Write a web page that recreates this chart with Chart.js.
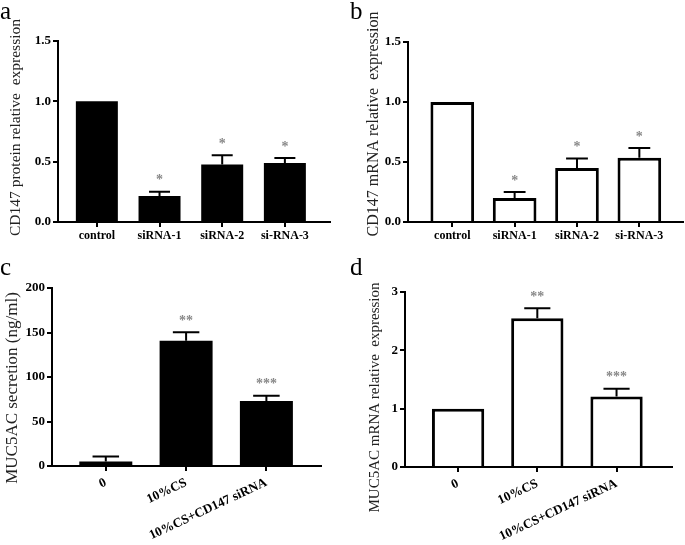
<!DOCTYPE html>
<html>
<head>
<meta charset="utf-8">
<script src="https://cdn.jsdelivr.net/npm/chart.js@4.4.0/dist/chart.umd.min.js"></script>
<style>
  body { margin: 0; background: #fff; width: 685px; height: 545px; position: relative; overflow: hidden; }
  canvas { position: absolute; }
</style>
</head>
<body>
<canvas id="chartA" width="340" height="256" style="left:0;top:0"></canvas>
<canvas id="chartB" width="335" height="256" style="left:350px;top:0"></canvas>
<canvas id="chartC" width="340" height="289" style="left:0;top:256px"></canvas>
<canvas id="chartD" width="335" height="289" style="left:350px;top:256px"></canvas>
<script>
// knockdown panels (a, b)
const knockdownLabels = ["control", "siRNA-1", "siRNA-2", "si-RNA-3"];
const proteinMeans = [1.0, 0.215, 0.477, 0.488];
const proteinErrors = [0, 0.035, 0.077, 0.042];
const mrnaMeans = [1.0, 0.20, 0.45, 0.535];
const mrnaErrors = [0, 0.05, 0.08, 0.082];
const knockdownStars = ["", "*", "*", "*"];
const knockdownTicks = [0, 0.5, 1.0, 1.5];

// treatment panels (c, d)
const treatmentLabels = ["0", "10%CS", "10%CS+CD147 siRNA"];
const secretionMeans = [5, 140.6, 73];
const secretionErrors = [5.6, 9.8, 6];
const muc5acMeans = [1.0, 2.55, 1.21];
const muc5acErrors = [0, 0.17, 0.13];
const treatmentStars = ["", "**", "***"];
const secretionTicks = [0, 50, 100, 150, 200];
const muc5acTicks = [0, 1, 2, 3];

const SERIF = "'Liberation Serif', 'Times New Roman', serif";

// upper-only error bars + significance stars, GraphPad style
const errorBarPlugin = {
  id: "errorBars",
  afterDatasetsDraw(chart) {
    const ds = chart.data.datasets[0];
    const meta = chart.getDatasetMeta(0);
    const y = chart.scales.y;
    const ctx = chart.ctx;
    ctx.save();
    meta.data.forEach((bar, i) => {
      const yBar = y.getPixelForValue(ds.means[i]);
      const yTop = y.getPixelForValue(ds.means[i] + ds.errors[i]);
      if (ds.errors[i] > 0) {
        const half = bar.width / 4;
        ctx.strokeStyle = "#000";
        ctx.lineWidth = 2;
        ctx.beginPath();
        ctx.moveTo(bar.x, yBar);
        ctx.lineTo(bar.x, yTop);
        ctx.moveTo(bar.x - half, yTop);
        ctx.lineTo(bar.x + half, yTop);
        ctx.stroke();
      }
      if (ds.stars[i]) {
        ctx.fillStyle = "#888";
        ctx.font = "bold 14px " + SERIF;
        ctx.textAlign = "center";
        ctx.textBaseline = "middle";
        ctx.fillText(ds.stars[i], bar.x, yTop - 11);
      }
    });
    ctx.restore();
  }
};

// y title drawn by hand: the original figure does not centre it on the axis
const yTitlePlugin = {
  id: "yTitle",
  afterDraw(chart, args, opts) {
    const { top, bottom } = chart.chartArea;
    const ctx = chart.ctx;
    ctx.save();
    ctx.translate(opts.x, (top + bottom) / 2 + opts.shift);
    ctx.rotate(-Math.PI / 2);
    ctx.fillStyle = "#222";
    ctx.font = opts.size + "px " + SERIF;
    ctx.textAlign = "center";
    ctx.textBaseline = "middle";
    ctx.fillText(opts.text, 0, 0);
    ctx.restore();
  }
};

function makePanel(id, p) {
  const ctx = document.getElementById(id).getContext("2d");
  return new Chart(ctx, {
    type: "bar",
    data: {
      datasets: [{
        data: p.means.map((v, i) => ({ x: i, y: v })),
        means: p.means,
        errors: p.errors,
        stars: p.stars,
        backgroundColor: p.hollow ? "#fff" : "#000",
        borderColor: "#000",
        borderWidth: p.hollow ? 3 : 0,
        categoryPercentage: 1,
        barPercentage: p.barPct,
      }],
    },
    options: {
      responsive: false,
      animation: false,
      layout: { padding: { left: 0, right: p.padRight, top: 0, bottom: 0 } },
      plugins: {
        legend: { display: false },
        tooltip: { enabled: false },
        title: {
          display: true,
          text: p.letter,
          align: "start",
          color: "#000",
          font: { family: SERIF, size: 25, weight: "normal", lineHeight: 1 },
          padding: { top: 0, bottom: p.letterGap },
        },
        yTitle: { text: p.yTitle, x: p.titleX, shift: p.titleShift, size: p.titleSize },
      },
      scales: {
        x: {
          type: "linear",
          offset: false,
          min: p.xMin,
          max: p.xMax,
          afterBuildTicks: (s) => { s.ticks = p.labels.map((_, i) => ({ value: i })); },
          afterFit: (s) => { s.height = p.xHeight; },
          ticks: {
            callback: (v, i) => p.labels[i],
            autoSkip: false,
            minRotation: p.rotation,
            maxRotation: p.rotation,
            padding: p.rotation ? 4 : 2,
            color: "#000",
            font: { family: SERIF, size: p.rotation ? 13 : 12, weight: "bold" },
          },
          grid: { offset: false, drawOnChartArea: false, color: "#000", lineWidth: 2, tickLength: 5 },
          border: { color: "#000", width: 2 },
        },
        y: {
          min: 0,
          max: p.yTicks[p.yTicks.length - 1],
          afterBuildTicks: (s) => { s.ticks = p.yTicks.map((v) => ({ value: v })); },
          afterFit: (s) => { s.width = p.yWidth; },
          ticks: {
            callback: (v) => v.toFixed(p.decimals),
            padding: 2,
            color: "#000",
            font: { family: SERIF, size: 13, weight: "bold" },
          },
          grid: { drawOnChartArea: false, color: "#000", lineWidth: 2, tickLength: 5 },
          border: { color: "#000", width: 2 },
        },
      },
    },
    plugins: [errorBarPlugin, yTitlePlugin],
  });
}

makePanel("chartA", {
  letter: "a", labels: knockdownLabels, means: proteinMeans, errors: proteinErrors,
  stars: knockdownStars, yTicks: knockdownTicks, decimals: 1, hollow: false,
  yTitle: "CD147 protein relative  expression", titleX: 16, titleShift: -4, titleSize: 15.5,
  barPct: 0.67, xMin: -0.62, xMax: 3.72, rotation: 0,
  padRight: 10, letterGap: 16, xHeight: 34, yWidth: 58,
});

makePanel("chartB", {
  letter: "b", labels: knockdownLabels, means: mrnaMeans, errors: mrnaErrors,
  stars: knockdownStars, yTicks: knockdownTicks, decimals: 1, hollow: true,
  yTitle: "CD147 mRNA relative  expression", titleX: 24, titleShift: -8, titleSize: 16,
  barPct: 0.70, xMin: -0.71, xMax: 3.70, rotation: 0,
  padRight: 2, letterGap: 17, xHeight: 34, yWidth: 58,
});

makePanel("chartC", {
  letter: "c", labels: treatmentLabels, means: secretionMeans, errors: secretionErrors,
  stars: treatmentStars, yTicks: secretionTicks, decimals: 0, hollow: false,
  yTitle: "MUC5AC secretion (ng/ml)", titleX: 13, titleShift: 11, titleSize: 17,
  barPct: 0.66, xMin: -0.67, xMax: 2.68, rotation: 25,
  padRight: 19, letterGap: 7, xHeight: 79, yWidth: 52,
});

makePanel("chartD", {
  letter: "d", labels: treatmentLabels, means: muc5acMeans, errors: muc5acErrors,
  stars: treatmentStars, yTicks: muc5acTicks, decimals: 0, hollow: true,
  yTitle: "MUC5AC mRNA relative  expression", titleX: 25, titleShift: 18, titleSize: 15,
  barPct: 0.66, xMin: -0.67, xMax: 2.70, rotation: 25,
  padRight: 13, letterGap: 11, xHeight: 78, yWidth: 55,
});
</script>
</body>
</html>
